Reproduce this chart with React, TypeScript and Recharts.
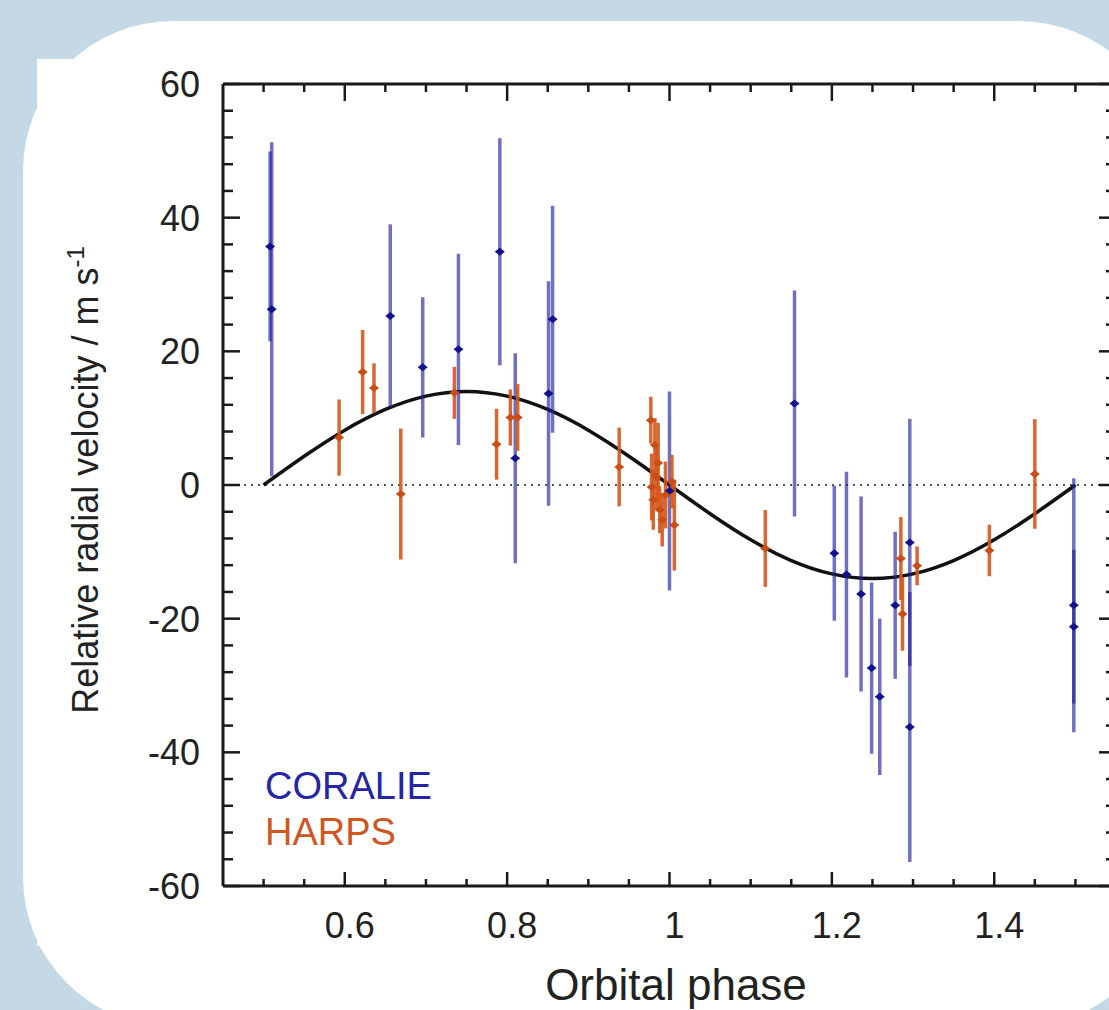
import { ComposedChart, Scatter, Line, XAxis, YAxis, ErrorBar, ReferenceLine } from 'recharts';

// CORALIE radial velocities (phase, m/s, 1-sigma error)
const coraliePhase = [0.508, 0.51, 0.656, 0.696, 0.74, 0.791, 0.81, 0.851, 0.856, 1.0, 1.154, 1.203, 1.218, 1.236, 1.249, 1.259, 1.278, 1.296, 1.296, 1.498, 1.498];
const coralieRv = [35.7, 26.3, 25.3, 17.6, 20.3, 34.9, 4.0, 13.7, 24.8, -0.9, 12.2, -10.2, -13.4, -16.3, -27.4, -31.7, -18.0, -8.6, -36.2, -18.0, -21.2];
const coralieErr = [14.2, 25, 13.7, 10.5, 14.3, 17, 15.7, 16.8, 17, 14.9, 16.9, 10.1, 15.4, 14.6, 12.8, 11.7, 11, 18.5, 20.2, 19, 11.5];

// HARPS radial velocities
const harpsPhase = [0.593, 0.622, 0.636, 0.669, 0.735, 0.787, 0.804, 0.813, 0.938, 0.977, 0.978, 0.98, 0.982, 0.984, 0.986, 0.988, 0.991, 0.995, 1.003, 1.006, 1.118, 1.285, 1.287, 1.305, 1.394, 1.45];
const harpsRv = [7.1, 16.9, 14.5, -1.35, 13.8, 6.1, 10.1, 10.1, 2.7, 9.7, -0.3, -2.2, 6.0, 1.2, 3.3, -3.7, -5.2, -1.5, 0.5, -6.0, -9.5, -11.0, -19.3, -12.1, -9.8, 1.65];
const harpsErr = [5.7, 6.3, 3.7, 9.8, 3.9, 5.3, 4.2, 5, 5.9, 3.5, 5, 4.5, 4, 5, 6, 3.5, 4, 5, 4, 6.8, 5.75, 6.2, 5.5, 2.9, 3.85, 8.2];

// orbit model
const modelPhase = [0.5, 0.55, 0.6, 0.65, 0.7, 0.75, 0.8, 0.85, 0.9, 0.95, 1.0, 1.05, 1.1, 1.15, 1.2, 1.25, 1.3, 1.35, 1.4, 1.45, 1.5];
const modelRv = [0, 4.3, 8.2, 11.3, 13.3, 14, 13.3, 11.3, 8.2, 4.3, 0, -4.3, -8.2, -11.3, -13.3, -14, -13.3, -11.3, -8.2, -4.3, 0];

const xTicks = [0.5, 0.55, 0.6, 0.65, 0.7, 0.75, 0.8, 0.85, 0.9, 0.95, 1, 1.05, 1.1, 1.15, 1.2, 1.25, 1.3, 1.35, 1.4, 1.45, 1.5];
const yTicks = [-60, -56, -52, -48, -44, -40, -36, -32, -28, -24, -20, -16, -12, -8, -4, 0, 4, 8, 12, 16, 20, 24, 28, 32, 36, 40, 44, 48, 52, 56, 60];

const coralie = coraliePhase.map((x, i) => ({ x, y: coralieRv[i], err: coralieErr[i] }));
const harps = harpsPhase.map((x, i) => ({ x, y: harpsRv[i], err: harpsErr[i] }));
const model = modelPhase.map((x, i) => ({ x, v: modelRv[i] }));

const INK = '#1a1a1a';
const FONT = '"Liberation Sans", Arial, sans-serif';
const BLUE = '#12128e';
const ORANGE = '#c94d14';

const isMajorX = (v: number) => Math.round(v * 100) % 20 === 0;
const isMajorY = (v: number) => v % 20 === 0;

const BottomTick = ({ x, y, payload }: any) => {
    const major = isMajorX(payload.value);
    return (
        <g>
            <line x1={x} x2={x} y1={y} y2={y - (major ? 14 : 7)} stroke={INK} strokeWidth={2.5} />
            {major && (
                <text x={x + 5} y={y + 52} textAnchor="middle" fontSize={36} fontFamily={FONT} fill="#222">
                    {String(Math.round(payload.value * 10) / 10)}
                </text>
            )}
        </g>
    );
};

const TopTick = ({ x, y, payload }: any) => {
    const major = isMajorX(payload.value);
    return <line x1={x} x2={x} y1={y} y2={y + (major ? 17 : 8)} stroke={INK} strokeWidth={2.5} />;
};

const LeftTick = ({ x, y, payload }: any) => {
    const major = isMajorY(payload.value);
    return (
        <g>
            <line x1={x} x2={x + (major ? 17 : 10)} y1={y} y2={y} stroke={INK} strokeWidth={2.5} />
            {major && (
                <text x={x - 23} y={y + 13} textAnchor="end" fontSize={36} fontFamily={FONT} fill="#222">
                    {payload.value}
                </text>
            )}
        </g>
    );
};

const RightTick = ({ x, y, payload }: any) => {
    const major = isMajorY(payload.value);
    return <line x1={x} x2={x - (major ? 17 : 10)} y1={y} y2={y} stroke={INK} strokeWidth={2.5} />;
};

const Diamond = ({ cx, cy, fill }: any) => (
    <path d={`M${cx - 5},${cy}L${cx},${cy - 4}L${cx + 5},${cy}L${cx},${cy + 4}Z`} fill={fill} />
);

export default function App() {
    return (
        <div style={{ position: 'fixed', left: 0, top: 0, width: 1109, height: 1010, overflow: 'hidden', background: '#c4d8e6' }}>
            <div style={{ position: 'absolute', left: 23, top: 21, width: 1146, height: 1006, borderRadius: 150, background: '#fff' }} />
            <div style={{ position: 'absolute', left: 37, top: 59, width: 1100, height: 887, background: '#fff' }} />
            <div style={{ position: 'absolute', left: 0, top: 0 }}>
                <ComposedChart width={1200} height={1010} margin={{ top: 83, right: 83, bottom: 123, left: 222 }}>
                    <XAxis
                        xAxisId="b"
                        dataKey="x"
                        type="number"
                        domain={[0.45, 1.55]}
                        allowDataOverflow
                        ticks={xTicks}
                        interval={0}
                        height={1}
                        tickSize={0}
                        tickMargin={0}
                        tick={BottomTick}
                        axisLine={{ stroke: INK, strokeWidth: 3 }}
                    />
                    <XAxis
                        xAxisId="t"
                        orientation="top"
                        dataKey="x"
                        type="number"
                        domain={[0.45, 1.55]}
                        allowDataOverflow
                        ticks={xTicks}
                        interval={0}
                        height={1}
                        tickSize={0}
                        tickMargin={0}
                        tick={TopTick}
                        axisLine={{ stroke: INK, strokeWidth: 3 }}
                    />
                    <YAxis
                        yAxisId="l"
                        type="number"
                        domain={[-60, 60]}
                        allowDataOverflow
                        ticks={yTicks}
                        interval={0}
                        width={1}
                        tickSize={0}
                        tickMargin={0}
                        tick={LeftTick}
                        axisLine={{ stroke: INK, strokeWidth: 3 }}
                    />
                    <YAxis
                        yAxisId="r"
                        orientation="right"
                        type="number"
                        domain={[-60, 60]}
                        allowDataOverflow
                        ticks={yTicks}
                        interval={0}
                        width={1}
                        tickSize={0}
                        tickMargin={0}
                        tick={RightTick}
                        axisLine={{ stroke: INK, strokeWidth: 3 }}
                    />
                    <ReferenceLine xAxisId="b" yAxisId="l" y={0} stroke="#555" strokeDasharray="2 5" strokeWidth={2} />
                    <Line
                        xAxisId="b"
                        yAxisId="l"
                        data={model}
                        dataKey="v"
                        type="natural"
                        stroke="#111"
                        strokeWidth={3.5}
                        dot={false}
                        activeDot={false}
                        isAnimationActive={false}
                    />
                    <Line
                        xAxisId="t"
                        yAxisId="r"
                        data={model}
                        dataKey="v"
                        stroke="none"
                        dot={false}
                        activeDot={false}
                        legendType="none"
                        isAnimationActive={false}
                    />
                    <Scatter xAxisId="b" yAxisId="l" data={coralie} dataKey="y" fill={BLUE} shape={Diamond} isAnimationActive={false}>
                        <ErrorBar dataKey="err" direction="y" width={0} stroke="#2424a0" strokeOpacity={0.65} strokeWidth={3.5} />
                    </Scatter>
                    <Scatter xAxisId="b" yAxisId="l" data={harps} dataKey="y" fill={ORANGE} shape={Diamond} isAnimationActive={false}>
                        <ErrorBar dataKey="err" direction="y" width={0} stroke="#d4561c" strokeOpacity={0.9} strokeWidth={3.5} />
                    </Scatter>
                </ComposedChart>
            </div>
            <svg width={1109} height={1010} style={{ position: 'absolute', left: 0, top: 0, pointerEvents: 'none' }}>
                <text transform="translate(98, 480) rotate(-90)" textAnchor="middle" fontSize={36} fontFamily={FONT} fill="#222">
                    Relative radial velocity / m s<tspan dy={-14} fontSize={24}>-1</tspan>
                </text>
                <text x={676} y={1000} textAnchor="middle" fontSize={44} fontFamily={FONT} fill="#222">
                    Orbital phase
                </text>
                <text x={265} y={799} fontSize={38} fontFamily={FONT} fill="#2525a5">
                    CORALIE
                </text>
                <text x={265} y={845} fontSize={38} fontFamily={FONT} fill="#d0561f">
                    HARPS
                </text>
            </svg>
        </div>
    );
}
